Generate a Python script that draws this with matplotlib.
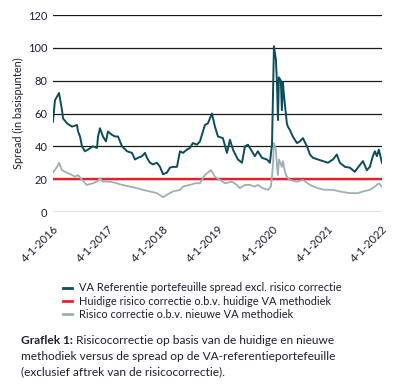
import matplotlib
matplotlib.use("Agg")
import matplotlib.pyplot as plt
from matplotlib.lines import Line2D
import pandas as pd

plt.rcParams['font.family'] = ['Lato', 'DejaVu Sans']

# ---- data ----
va_dates = ["2016-01-04", "2016-01-17", "2016-02-13", "2016-03-04", "2016-03-11", "2016-04-06",
            "2016-05-10", "2016-06-12", "2016-06-19", "2016-07-02", "2016-07-15", "2016-08-04",
            "2016-08-24", "2016-09-26", "2016-10-23", "2016-10-30", "2016-11-12", "2016-12-02",
            "2016-12-22", "2017-01-04", "2017-01-31", "2017-02-20", "2017-03-12", "2017-04-08",
            "2017-05-11", "2017-06-13", "2017-07-03", "2017-07-23", "2017-08-19", "2017-09-08",
            "2017-09-21", "2017-10-11", "2017-10-31", "2017-11-27", "2017-12-17", "2018-01-06",
            "2018-02-01", "2018-02-21", "2018-03-13", "2018-04-09", "2018-04-29", "2018-05-19",
            "2018-06-14", "2018-07-04", "2018-07-24", "2018-08-20", "2018-09-09", "2018-10-12",
            "2018-11-01", "2018-11-28", "2018-12-18", "2019-01-07", "2019-02-09", "2019-03-08",
            "2019-03-28", "2019-04-17", "2019-05-20", "2019-06-16", "2019-07-06", "2019-07-26",
            "2019-08-21", "2019-09-10", "2019-09-30", "2019-10-27", "2019-11-29", "2019-12-19",
            "2020-01-02", "2020-01-08", "2020-01-15", "2020-01-28", "2020-02-04", "2020-02-11",
            "2020-02-17", "2020-03-01", "2020-03-08", "2020-03-15", "2020-03-21", "2020-04-10",
            "2020-04-17", "2020-04-30", "2020-05-20", "2020-06-16", "2020-07-06", "2020-07-26",
            "2020-08-22", "2020-09-11", "2020-10-01", "2020-11-03", "2020-12-06", "2021-01-09",
            "2021-02-11", "2021-03-09", "2021-03-29", "2021-05-02", "2021-06-04", "2021-07-07",
            "2021-07-27", "2021-08-30", "2021-09-25", "2021-10-15", "2021-11-04", "2021-11-18",
            "2021-12-01", "2021-12-14", "2021-12-27", "2022-01-03"]
va_spread = [55, 68, 72.5, 62, 57, 54,
             52, 53, 49, 46, 40, 37,
             38, 40, 39, 46, 51, 46,
             43, 49, 47, 46, 46, 40,
             37, 36, 32, 33, 34, 36,
             33, 30, 29, 30, 27.5, 23,
             24, 27, 27.5, 27.5, 37, 36,
             38, 39, 42, 41, 43, 53,
             54, 60, 52, 46, 45, 36,
             44, 38, 32, 30, 40, 41,
             37, 34, 37, 33, 32, 30,
             41, 68, 101, 93, 79, 56,
             82, 80, 62, 79, 72, 54,
             52, 50, 46, 42, 43, 45,
             40, 35, 33, 32, 31, 30,
             32, 35, 30, 27.5, 27, 24.5,
             27, 31, 25.5, 27.5, 34, 37,
             34, 38, 33, 30]

new_dates = ["2016-01-04", "2016-01-31", "2016-02-13", "2016-03-04", "2016-04-06", "2016-05-10",
             "2016-05-30", "2016-06-19", "2016-07-15", "2016-08-17", "2016-09-26", "2016-10-23",
             "2016-11-12", "2016-12-02", "2017-01-18", "2017-03-05", "2017-04-08", "2017-05-31",
             "2017-07-16", "2017-08-25", "2017-10-11", "2017-11-27", "2018-01-06", "2018-02-01",
             "2018-03-13", "2018-04-29", "2018-05-19", "2018-07-04", "2018-08-07", "2018-09-09",
             "2018-10-12", "2018-11-21", "2018-12-18", "2019-01-20", "2019-02-23", "2019-04-10",
             "2019-05-13", "2019-06-02", "2019-07-06", "2019-08-08", "2019-09-10", "2019-09-30",
             "2019-11-03", "2019-12-06", "2019-12-26", "2020-01-08", "2020-01-15", "2020-01-28",
             "2020-02-04", "2020-02-11", "2020-02-17", "2020-03-08", "2020-03-15", "2020-03-28",
             "2020-04-10", "2020-04-30", "2020-06-16", "2020-07-26", "2020-09-11", "2020-11-03",
             "2020-12-19", "2021-02-11", "2021-03-29", "2021-06-04", "2021-07-27", "2021-08-30",
             "2021-10-15", "2021-11-18", "2021-12-14", "2022-01-03"]
new_correction = [24, 27.5, 30, 25.5, 24, 22.5,
                  21.5, 22.5, 19.5, 16.5, 17.5, 18.5,
                  20.5, 18.5, 18.5, 17.5, 16.5, 15.5,
                  14.5, 13.5, 12.5, 11.5, 9, 10.5,
                  12.5, 13.5, 15.5, 16.5, 17.5, 17.5,
                  22.5, 25.5, 21.5, 19.5, 17.5, 18.5,
                  16.5, 14.5, 16.5, 16.5, 15.5, 16.5,
                  14.5, 13.5, 15.5, 27.5, 42, 38,
                  27.5, 22.5, 32, 27.5, 31, 24.5,
                  21.5, 19.5, 18.5, 19.5, 16.5, 14.5,
                  13.5, 13.5, 12.5, 11.5, 11.5, 12.5,
                  13.5, 15.5, 17.5, 15.5]

current_dates = ["2016-01-04", "2022-01-04"]
current_correction = [20, 20]

tick_dates = ["2016-01-04", "2017-01-04", "2018-01-04", "2019-01-04",
              "2020-01-04", "2021-01-04", "2022-01-04"]
tick_labels = ["4-1-2016", "4-1-2017", "4-1-2018", "4-1-2019",
               "4-1-2020", "4-1-2021", "4-1-2022"]
y_ticks = [0, 20, 40, 60, 80, 100, 120]

labels = ["VA Referentie portefeuille spread excl. risico correctie",
          "Huidige risico correctie o.b.v. huidige VA methodiek",
          "Risico correctie o.b.v. nieuwe VA methodiek"]

TEXT = '#1c1f33'
TEAL = '#0b4d5a'
RED = '#e2232a'
GRAY = '#9db0b8'

fig = plt.figure(figsize=(3.98, 3.92), dpi=100)
ax = fig.add_axes([53/398, 1 - 212/392, (382-53)/398, (212-15)/392])

ax.plot(pd.to_datetime(current_dates), current_correction, color=RED, lw=1.7, zorder=3)
ax.plot(pd.to_datetime(new_dates), new_correction, color=GRAY, lw=1.3, zorder=4)
ax.plot(pd.to_datetime(va_dates), va_spread, color=TEAL, lw=1.4, zorder=5)

ax.set_ylim(0, 120)
ax.set_xlim(pd.Timestamp("2016-01-04"), pd.Timestamp("2022-01-04"))
ax.set_yticks(y_ticks)
ax.yaxis.grid(True, color='#1a1a1a', lw=0.9)
ax.set_axisbelow(True)
for s in ax.spines.values():
    s.set_visible(False)
ax.tick_params(axis='both', length=0, labelsize=8, colors=TEXT)
ax.tick_params(axis='y', pad=4)
ax.set_xticks(pd.to_datetime(tick_dates))
ax.set_xticklabels(tick_labels, rotation=45, ha='right', va='top', rotation_mode='anchor')
ax.tick_params(axis='x', pad=8)
ax.set_ylabel("Spread (in basispunten)", fontsize=7.8, color=TEXT, labelpad=3)

handles = [Line2D([], [], color=TEAL, lw=2), Line2D([], [], color=RED, lw=2),
           Line2D([], [], color=GRAY, lw=2)]
fig.legend(handles, labels, loc='upper left', bbox_to_anchor=(58/398, 1 - 277/392),
           frameon=False, fontsize=7.9, handlelength=0.8, handletextpad=0.6,
           labelspacing=0.22, borderpad=0, labelcolor=TEXT)

cap_x = 21/398
FS = 8.6
t1 = fig.text(cap_x, 1 - 340/392, "Graflek 1:", fontsize=FS, fontweight='bold',
              color=TEXT, va='center')
fig.canvas.draw()
bb = t1.get_window_extent(fig.canvas.get_renderer())
fig.text((bb.x1 + 3) / 398, 1 - 340/392,
         "Risicocorrectie op basis van de huidige en nieuwe", fontsize=FS,
         color=TEXT, va='center')
fig.text(cap_x, 1 - 356/392,
         "methodiek versus de spread op de VA-referentieportefeuille", fontsize=FS,
         color=TEXT, va='center')
fig.text(cap_x, 1 - 372/392,
         "(exclusief aftrek van de risicocorrectie).", fontsize=FS,
         color=TEXT, va='center')

fig.savefig("out.png", dpi=100)
